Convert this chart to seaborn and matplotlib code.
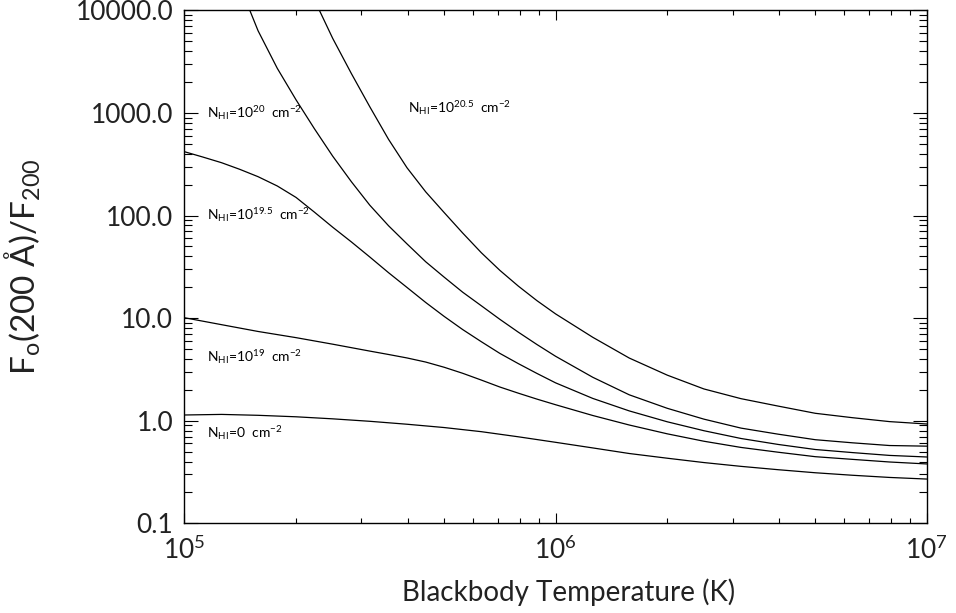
import matplotlib
matplotlib.use("Agg")
import matplotlib.pyplot as plt
import matplotlib.ticker as mticker
import seaborn as sns

# N_HI = 0 cm^-2
temp_n0 = [1.0e5, 1.26e5, 1.58e5, 2.00e5, 2.51e5, 3.16e5, 3.98e5, 5.01e5, 6.31e5,
           7.94e5, 1.0e6, 1.26e6, 1.58e6, 2.0e6, 2.51e6, 3.16e6, 3.98e6, 5.01e6,
           6.31e6, 7.94e6, 1.0e7]
ratio_n0 = [1.137, 1.152, 1.129, 1.092, 1.043, 0.987, 0.924, 0.858, 0.782,
            0.697, 0.616, 0.543, 0.479, 0.431, 0.391, 0.359, 0.333, 0.311,
            0.294, 0.280, 0.270]

# N_HI = 10^19 cm^-2
temp_n19 = [1.0e5, 1.26e5, 1.58e5, 2.00e5, 2.51e5, 3.16e5, 3.55e5, 3.98e5, 4.47e5,
            5.01e5, 5.62e5, 6.31e5, 7.08e5, 7.94e5, 8.91e5, 1.0e6, 1.26e6, 1.58e6,
            2.0e6, 2.51e6, 3.16e6, 3.98e6, 5.01e6, 6.31e6, 7.94e6, 1.0e7]
ratio_n19 = [10.09, 8.63, 7.41, 6.45, 5.57, 4.77, 4.42, 4.09, 3.73,
             3.32, 2.90, 2.49, 2.13, 1.855, 1.624, 1.432, 1.124, 0.908,
             0.745, 0.631, 0.549, 0.493, 0.446, 0.420, 0.396, 0.379]

# N_HI = 10^19.5 cm^-2
temp_n195 = [1.0e5, 1.12e5, 1.26e5, 1.41e5, 1.58e5, 1.78e5, 2.00e5, 2.24e5, 2.51e5,
             2.82e5, 3.16e5, 3.55e5, 3.98e5, 4.47e5, 5.01e5, 5.62e5, 6.31e5, 7.08e5,
             7.94e5, 8.91e5, 1.0e6, 1.26e6, 1.58e6, 2.0e6, 2.51e6, 3.16e6, 3.98e6,
             5.01e6, 6.31e6, 7.94e6, 1.0e7]
ratio_n195 = [419, 372, 327, 282, 239, 194, 150, 108, 76.9,
              55.2, 39.4, 27.7, 19.9, 14.2, 10.4, 7.74, 5.89, 4.53,
              3.60, 2.89, 2.34, 1.649, 1.246, 0.976, 0.799, 0.671, 0.587,
              0.524, 0.489, 0.459, 0.443]

# N_HI = 10^20 cm^-2
temp_n20 = [1.41e5, 1.58e5, 1.78e5, 2.00e5, 2.24e5, 2.51e5, 2.82e5, 3.16e5, 3.55e5,
            3.98e5, 4.47e5, 5.01e5, 5.62e5, 6.31e5, 7.08e5, 7.94e5, 8.91e5, 1.0e6,
            1.26e6, 1.58e6, 2.0e6, 2.51e6, 3.16e6, 3.98e6, 5.01e6, 6.31e6, 7.94e6,
            1.0e7]
ratio_n20 = [17500, 6320, 2720, 1340, 703, 379, 213, 126, 79.4,
             52.9, 35.4, 25.1, 17.9, 13.2, 9.73, 7.29, 5.53, 4.25,
             2.65, 1.788, 1.321, 1.036, 0.847, 0.739, 0.653, 0.609, 0.573,
             0.565]

# N_HI = 10^20.5 cm^-2
temp_n205 = [2.24e5, 2.51e5, 2.82e5, 3.16e5, 3.55e5, 3.98e5, 4.47e5, 5.01e5, 5.62e5,
             6.31e5, 7.08e5, 7.94e5, 8.91e5, 1.0e6, 1.26e6, 1.58e6, 2.0e6, 2.51e6,
             3.16e6, 3.98e6, 5.01e6, 6.31e6, 7.94e6, 1.0e7]
ratio_n205 = [12700, 5330, 2410, 1147, 552, 292, 170, 107, 67.6,
              43.4, 29.2, 20.5, 14.8, 11.0, 6.50, 4.08, 2.78, 2.04,
              1.64, 1.388, 1.181, 1.070, 0.980, 0.929]

curves = [(temp_n0, ratio_n0), (temp_n19, ratio_n19), (temp_n195, ratio_n195),
          (temp_n20, ratio_n20), (temp_n205, ratio_n205)]

labels = [r"N$_{\rm HI}$=0  cm$^{-2}$",
          r"N$_{\rm HI}$=10$^{19}$  cm$^{-2}$",
          r"N$_{\rm HI}$=10$^{19.5}$  cm$^{-2}$",
          r"N$_{\rm HI}$=10$^{20}$  cm$^{-2}$",
          r"N$_{\rm HI}$=10$^{20.5}$  cm$^{-2}$"]
label_x = [1.15e5, 1.15e5, 1.15e5, 1.15e5, 4.01e5]
label_y = [0.673, 3.76, 90, 900, 1000]

sns.set_theme(style="ticks")
plt.rcParams["font.family"] = ["Lato", "DejaVu Sans"]
plt.rcParams["mathtext.fontset"] = "custom"
plt.rcParams["mathtext.rm"] = "Lato"
plt.rcParams["mathtext.it"] = "Lato:italic"
plt.rcParams["mathtext.bf"] = "Lato:bold"
plt.rcParams["text.color"] = "black"
plt.rcParams["axes.labelcolor"] = "black"

fig = plt.figure(figsize=(9.56, 6.13), dpi=100)
ax = fig.add_axes([0.1928, 0.1463, 0.7766, 0.8369])

for temp, ratio in curves:
    sns.lineplot(x=temp, y=ratio, ax=ax, color="black", linewidth=0.9,
                 estimator=None, sort=False)

ax.set_xscale("log")
ax.set_yscale("log")
ax.set_xlim(1e5, 1e7)
ax.set_ylim(0.1, 10000)

ax.yaxis.set_major_locator(mticker.LogLocator(base=10, numticks=10))
ax.yaxis.set_minor_locator(mticker.LogLocator(base=10, subs=range(2, 10), numticks=20))
ax.yaxis.set_major_formatter(mticker.FuncFormatter(lambda v, p: f"{v:.1f}"))
ax.yaxis.set_minor_formatter(mticker.NullFormatter())
ax.xaxis.set_major_locator(mticker.LogLocator(base=10, numticks=10))
ax.xaxis.set_minor_locator(mticker.LogLocator(base=10, subs=range(2, 10), numticks=20))
ax.xaxis.set_minor_formatter(mticker.NullFormatter())

ax.tick_params(which="both", direction="in", top=True, right=True,
               color="black", width=0.8, labelcolor="#222222")
ax.tick_params(axis="y", which="major", length=10, pad=8, labelsize=19)
ax.tick_params(axis="y", which="minor", length=5.5)
ax.tick_params(axis="x", which="major", length=7.5, pad=9, labelsize=19)
ax.tick_params(axis="x", which="minor", length=3.6)
for s in ax.spines.values():
    s.set_color("black")
    s.set_linewidth(1.0)

for txt, tx, ty in zip(labels, label_x, label_y):
    ax.text(tx, ty, txt, fontsize=10, ha="left", va="baseline", color="black")

ax.set_xlabel("Blackbody Temperature (K)", fontsize=20, color="#222222")
ax.xaxis.set_label_coords(0.517, -0.107)
ax.set_ylabel(r"F$_{\rm o}$(200 Å)/F$_{200}$", fontsize=24, color="#222222")
ax.yaxis.set_label_coords(-0.19, 0.5)

fig.savefig("out.png", dpi=100)
